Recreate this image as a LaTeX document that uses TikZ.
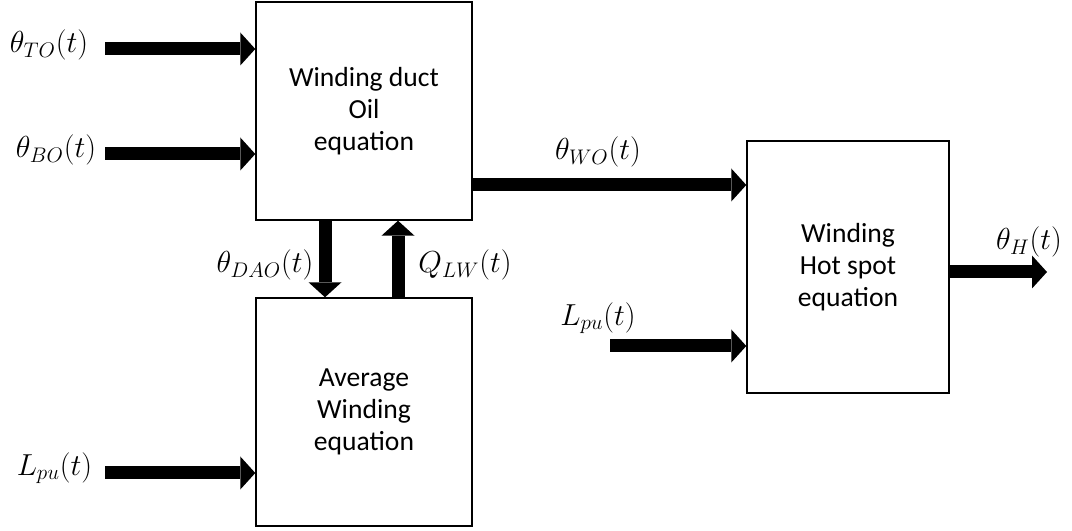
\documentclass[tikz,border=0pt]{standalone}
\usepackage{fontspec}
\setmainfont{Carlito}
\usepackage{tikz}
\usetikzlibrary{arrows.meta, positioning}

\begin{document}
\begin{tikzpicture}[
    block/.style={draw, line width=0.8pt, align=center, font=\fontsize{15.7}{18.4}\selectfont},
    sig/.style={font=\fontsize{16.8}{20}\selectfont},
    flow/.style={line width=0.26cm, -{Triangle[length=0.3cm, width=0.66cm, line width=0pt]}},
]
    \useasboundingbox (0,0) rectangle (21.44,10.62);

    % --- blocks ---
    \node[block, minimum width=4.32cm, minimum height=4.36cm] (duct) at (7.28, 8.40) {Winding duct\\Oil\\equation};
    \node[block, minimum width=4.32cm, minimum height=4.56cm] (avg) at (7.28, 2.38) {Average\\Winding\\equation};
    \node[block, minimum width=4.04cm, minimum height=5.04cm] (hot) at (16.96, 5.28) {Winding\\Hot spot\\equation};

    % --- inputs ---
    \coordinate (tto) at (2.10, 9.64);
    \coordinate (tbo) at (2.10, 7.54);
    \coordinate (lpa) at (2.10, 1.16);
    \coordinate (lpb) at (12.20, 3.70);
    \coordinate (thout) at (20.94, 5.18);
    \draw[flow] (tto) -- (tto -| duct.west);
    \draw[flow] (tbo) -- (tbo -| duct.west);
    \draw[flow] (lpa) -- (lpa -| avg.west);
    \draw[flow] (lpb) -- (lpb -| hot.west);

    % --- links ---
    \draw[flow] ([xshift=-0.78cm]duct.south) -- ([xshift=-0.78cm]avg.north);
    \draw[flow] ([xshift=0.68cm]avg.north) -- ([xshift=0.68cm]duct.south);
    \draw[flow] (duct.east |- 0,6.92) -- (hot.west |- 0,6.92);
    \draw[flow] (hot.east |- thout) -- (thout);

    % --- labels ---
    \node[sig] (lto) at (0.98, 9.72) {$\theta_{TO}(t)$};
    \node[sig] (lbo) at (1.12, 7.62) {$\theta_{BO}(t)$};
    \node[sig] (llpa) at (1.09, 1.26) {$L_{pu}(t)$};
    \node[sig] (ldao) at (5.30, 5.32) {$\theta_{DAO}(t)$};
    \node[sig] (lqlw) at (9.30, 5.32) {$Q_{LW}(t)$};
    \node[sig] (lwo) at (11.96, 7.58) {$\theta_{WO}(t)$};
    \node[sig] (llpb) at (11.96, 4.26) {$L_{pu}(t)$};
    \node[sig] (lh) at (20.58, 5.78) {$\theta_{H}(t)$};
\end{tikzpicture}
\end{document}
